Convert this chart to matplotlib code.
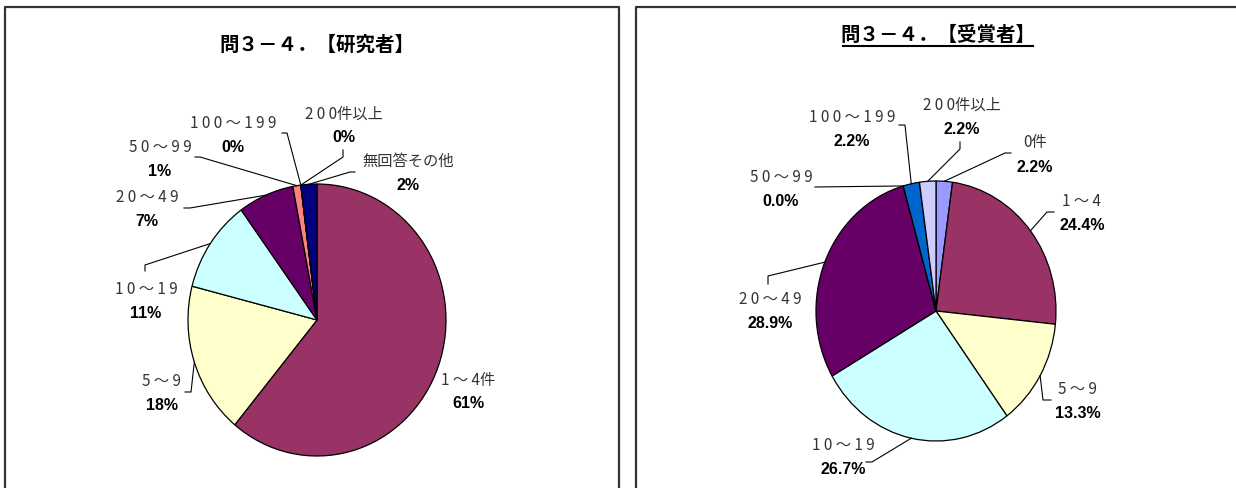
import numpy as np
import matplotlib.pyplot as plt

W, H = 1236, 488

# --- data ---
left_title = "問３－４．【研究者】"
left_cats = ["1 ～ 4件", "5 ～ 9", "1 0 ～ 1 9", "2 0 ～ 4 9", "5 0 ～ 9 9",
             "1 0 0 ～ 1 9 9", "2 0 0件以上", "無回答その他"]
left_vals = [61, 18, 11, 7, 1, 0, 0, 2]

right_title = "問３－４．【受賞者】"
right_cats = ["0件", "1 ～ 4", "5 ～ 9", "1 0 ～ 1 9", "2 0 ～ 4 9", "5 0 ～ 9 9",
              "1 0 0 ～ 1 9 9", "2 0 0件以上"]
right_vals = [2.2, 24.4, 13.3, 26.7, 28.9, 0.0, 2.2, 2.2]

left_colors = ["#993366", "#FFFFCC", "#CCFFFF", "#660066", "#FF8080",
               "#0066CC", "#CCCCFF", "#000080"]
right_colors = ["#9999FF", "#993366", "#FFFFCC", "#CCFFFF", "#660066",
                "#FF8080", "#0066CC", "#CCCCFF"]

# layout (pixels): pie centre / radii, label centres, leader elbows
left_pie = dict(cx=317, cy=320, rx=129, ry=136)
left_lab = [(468, 380), (162, 382), (146, 290), (147, 198), (160, 147),
            (233, 123), (344, 114), (408, 161)]
left_leader = [None, [(191, 392), (185, 392)], [(145, 265), (145, 271)],
               [(190, 208), (184, 208)], [(200, 157), (195, 157)],
               [(287, 133), (282, 133)], [(343, 157), (343, 150)],
               [(350, 172), (355, 172)]]

right_pie = dict(cx=936, cy=311, rx=120, ry=130)
right_lab = [(1035, 143), (1082, 202), (1078, 390), (843, 445), (770, 300),
             (781, 177), (852, 117), (962, 105)]
right_leader = [[(1005, 153), (1011, 153)], [(1047, 212), (1054, 212)],
                [(1043, 400), (1051, 400)], [(872, 462), (866, 462)],
                [(768, 276), (768, 284)], [(815, 187)],
                [(905, 125), (899, 125)], [(960, 149), (960, 142)]]

fig = plt.figure(figsize=(W / 100, H / 100), dpi=100)


def draw_pie(vals, colors, p):
    pos = [(p['cx'] - p['rx']) / W, 1 - (p['cy'] + p['ry']) / H,
           2 * p['rx'] / W, 2 * p['ry'] / H]
    a = fig.add_axes(pos)
    a.pie(vals, colors=colors, startangle=90, counterclock=False, radius=1,
          wedgeprops=dict(edgecolor='black', linewidth=0.9))
    a.set_aspect('auto')
    a.set_xlim(-1, 1)
    a.set_ylim(-1, 1)
    a.axis('off')


draw_pie(left_vals, left_colors, left_pie)
draw_pie(right_vals, right_colors, right_pie)

# overlay in pixel coords
ov = fig.add_axes([0, 0, 1, 1])
ov.set_xlim(0, W)
ov.set_ylim(H, 0)
ov.axis('off')

# panel borders
ov.plot([5, 5, 619, 619], [H + 5, 7, 7, H + 5], color='#333333', lw=1.6)
ov.plot([636, 636, W + 5], [H + 5, 7, 7], color='#333333', lw=1.6)

# titles
tfont = dict(family=['Noto Sans CJK JP'], weight='bold', fontsize=14)
ov.text(317, 45, left_title, ha='center', va='center', **tfont)
ov.text(938, 35, right_title, ha='center', va='center', **tfont)
ov.plot([843, 1033], [46, 46], color='black', lw=1.5)


def labels(cats, vals, p, labs, leaders, fmt):
    total = sum(vals)
    cum = 0
    for cat, v, (lx, ly), ld in zip(cats, vals, labs, leaders):
        mid = (cum + v / 2) / total * 2 * np.pi
        cum += v
        if ld is not None:
            sx = p['cx'] + p['rx'] * np.sin(mid)
            sy = p['cy'] - p['ry'] * np.cos(mid)
            xs = [sx] + [q[0] for q in ld]
            ys = [sy] + [q[1] for q in ld]
            ov.plot(xs, ys, color='black', lw=0.8)
        ov.text(lx, ly, cat, ha='center', va='center', fontsize=11,
                family=['Noto Sans CJK JP'], color='#333333')
        ov.text(lx, ly + 24, fmt.format(v), ha='center', va='center',
                fontsize=11.5, weight='bold', family=['Liberation Sans'],
                color='black')


labels(left_cats, left_vals, left_pie, left_lab, left_leader, "{:.0f}%")
labels(right_cats, right_vals, right_pie, right_lab, right_leader, "{:.1f}%")

fig.savefig("out.png", dpi=100)
